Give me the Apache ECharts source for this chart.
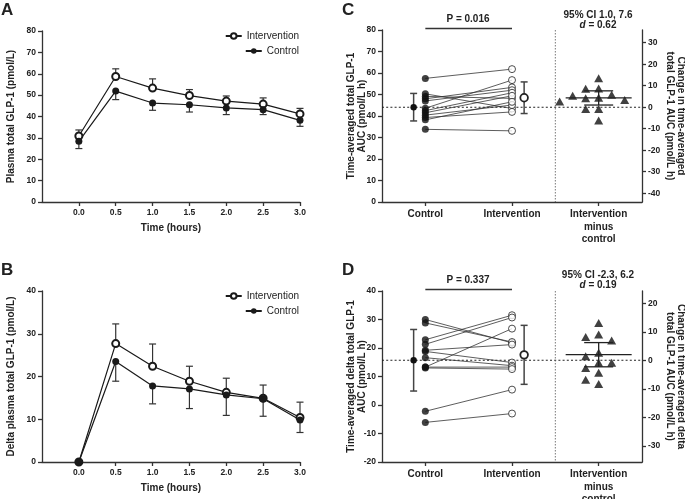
<!DOCTYPE html>
<html><head><meta charset="utf-8">
<script src="https://cdn.jsdelivr.net/npm/echarts@6/dist/echarts.min.js"></script>
<style>html,body{margin:0;padding:0;background:#fff}#c{width:685px;height:499px}</style>
</head><body><div id="c"></div>
<script>
// ---------- DATA ----------
const timeHours = [0, 0.5, 1, 1.5, 2, 2.5, 3];
const timeTicks = [0, 0.5, 1, 1.5, 2, 2.5, 3];
// Panel A: plasma total GLP-1 (pmol/L), mean and SEM
const plasmaIntervention = [30.9, 58.7, 53.3, 49.8, 47.2, 45.8, 41.2];
const plasmaInterventionErr = [2.8, 3.6, 4.3, 2.8, 2.4, 2.9, 2.6];
const plasmaControl = [28.4, 51.9, 46.3, 45.5, 44.0, 43.2, 38.2];
const plasmaControlErr = [3.4, 4.0, 3.4, 3.4, 3.1, 2.3, 2.8];
// Panel B: delta plasma total GLP-1 (pmol/L)
const deltaIntervention = [0, 27.7, 22.4, 18.9, 16.3, 14.9, 10.4];
const deltaInterventionErr = [0, 4.6, 5.2, 3.5, 3.3, 3.1, 3.6];
const deltaControl = [0, 23.5, 17.8, 17.1, 15.7, 14.8, 9.8];
const deltaControlErr = [0, 4.6, 4.2, 4.6, 4.8, 4.1, 2.9];
// Panel C: time-averaged total GLP-1 AUC per participant
const aucControl      = [57.5, 50.3, 49.1, 33.8, 43.6, 48.0, 47.0, 42.5, 41.5, 40.4, 39.3, 38.2];
const aucIntervention = [61.8, 43.5, 48.2, 33.1, 56.7, 53.3, 52.0, 50.8, 49.4, 45.1, 41.9, 46.6];
const aucMeans = [44.1, 48.5];
const aucSD = [6.4, 7.35];
const aucDiff = [13.5, 8.7, 8.6, 5.8, 5.3, 4.4, 4.2, 3.4, 2.6, -0.8, -0.8, -6.2];
const aucDiffStats = [4.3, 1.0, 7.6]; // mean, CI low, CI high
// Panel D: time-averaged delta total GLP-1 AUC
const dAucControl      = [30.0, 28.8, 22.9, 21.3, 19.2, 18.8, 16.6, 13.3, 13.3, 13.0, -2.2, -6.1];
const dAucIntervention = [21.8, 22.1, 31.5, 30.7, 21.2, 14.9, 13.8, 26.8, 13.3, 12.6, 5.4, -3.0];
const dAucMeans = [15.7, 17.6];
const dAucSD = [10.8, 10.35];
const dAucDiff = [13.1, 9.0, 8.2, 6.9, 2.6, 1.4, -0.9, -0.9, -2.7, -4.4, -6.8, -8.3];
const dAucDiffStats = [1.95, -2.3, 6.2];
// Text
const groupLabels = ['Control', 'Intervention', 'Intervention\nminus\ncontrol'];
const pTexts = ['P = 0.016', 'P = 0.337'];
const ciTexts = ['95% CI 1.0, 7.6', '95% CI -2.3, 6.2'];
const dTexts = ['0.62', '0.19'];

// ---------- STYLE ----------
const FF = "'Liberation Sans', Arial, sans-serif";
const INK = '#222';
const AX = '#333';
const axisLine = {show: true, onZero: false, lineStyle: {color: AX, width: 1.3}};
const axisTick = {show: true, length: 4, inside: false, lineStyle: {color: AX, width: 1.3}};
const axisLabel = {color: INK, fontSize: 8.5, fontWeight: 'bold', fontFamily: FF, margin: 6};
const nameStyle = {color: INK, fontSize: 10, fontWeight: 'bold', fontFamily: FF, lineHeight: 11};

const gridA = {left: 42, top: 31, width: 258, height: 171};
const gridB = {left: 42, top: 291, width: 258, height: 171};
const gridC = {left: 382, top: 30, width: 260, height: 172};
const gridD = {left: 382, top: 291, width: 260, height: 171};

function errData(xs, ys, es, dir) { return xs.map((x, i) => [x, ys[i], ys[i] + dir * es[i]]); }
function errSeries(xi, yi, data) {
  return {type: 'custom', xAxisIndex: xi, yAxisIndex: yi, z: 1, silent: true,
    encode: {x: 0, y: [1, 2]}, data,
    renderItem(params, api) {
      const x = api.value(0), y = api.value(1), e = api.value(2);
      if (e === y) return null;
      const p0 = api.coord([x, y]), p1 = api.coord([x, e]);
      const st = {stroke: AX, lineWidth: 1.2};
      return {type: 'group', children: [
        {type: 'line', shape: {x1: p0[0], y1: p0[1], x2: p1[0], y2: p1[1]}, style: st},
        {type: 'line', shape: {x1: p1[0] - 3.5, y1: p1[1], x2: p1[0] + 3.5, y2: p1[1]}, style: st}
      ]};
    }};
}
function lineSeries(name, xi, yi, ys, open) {
  return {type: 'line', name, xAxisIndex: xi, yAxisIndex: yi, z: 3,
    data: timeHours.map((t, i) => [t, ys[i]]),
    symbol: open ? 'emptyCircle' : 'circle', symbolSize: 7, showSymbol: true,
    lineStyle: {color: '#1a1a1a', width: 1.2},
    itemStyle: {color: '#1a1a1a', borderColor: '#1a1a1a', borderWidth: open ? 1.3 : 0},
    emphasis: {disabled: true}};
}
function timeX(gi) {
  return {type: 'value', gridIndex: gi, min: -0.5, max: 3, interval: 0.5,
    name: 'Time (hours)', nameLocation: 'middle', nameGap: 21, nameTextStyle: nameStyle, nameMoveOverlap: false,
    axisLine, axisTick: Object.assign({}, axisTick, {customValues: timeTicks}),
    axisLabel: Object.assign({}, axisLabel, {customValues: timeTicks, formatter: v => v.toFixed(1)}),
    splitLine: {show: false}};
}
function valY(gi, min, max, name, gap) {
  return {type: 'value', gridIndex: gi, min, max, interval: 10, position: 'left',
    name, nameLocation: 'middle', nameGap: gap, nameRotate: 90, nameTextStyle: nameStyle, nameMoveOverlap: false,
    axisLine, axisTick, axisLabel, splitLine: {show: false}};
}
function rightY(gi, min, max, ctrlMean, ticks, name) {
  return {type: 'value', gridIndex: gi, min: min - ctrlMean, max: max - ctrlMean, position: 'right',
    name, nameLocation: 'middle', nameGap: 22, nameRotate: -90, nameTextStyle: nameStyle, nameMoveOverlap: false,
    axisLine, axisTick: Object.assign({}, axisTick, {customValues: ticks}),
    axisLabel: Object.assign({}, axisLabel, {customValues: ticks}), splitLine: {show: false}};
}
function catX(gi) {
  return {type: 'value', gridIndex: gi, min: -0.5, max: 2.5,
    axisLine, axisTick: Object.assign({}, axisTick, {customValues: [0, 1, 2]}),
    axisLabel: Object.assign({}, axisLabel, {fontSize: 10, lineHeight: 12.5, customValues: [0, 1, 2],
      formatter: v => groupLabels[Math.round(v)] || ''}),
    splitLine: {show: false}};
}
function swarm(values, pxPerUnit, step, wx, wy) {
  const order = values.map((v, i) => i).sort((a, b) => values[b] - values[a]);
  const placed = [], off = new Array(values.length);
  for (const i of order) {
    const y = values[i] * pxPerUnit;
    for (let k = 0; k < 50; k++) {
      const c = k === 0 ? 0 : (k % 2 ? -Math.ceil(k / 2) : Math.ceil(k / 2)) * step;
      if (placed.every(p => Math.abs(p.x - c) >= wx || Math.abs(p.y - y) >= wy)) {
        off[i] = c; placed.push({x: c, y}); break;
      }
    }
  }
  return off;
}
function pairedSeries(xi, yi, ctrl, intv, means, sds, diffs, stats, ryi, pxPerUnit, ymin, ymax) {
  const unitPx = 260 / 3;
  const out = [];
  // dotted reference lines
  out.push({type: 'custom', xAxisIndex: xi, yAxisIndex: yi, z: 1, silent: true, data: [[1.5, means[0]]],
    renderItem(params, api) {
      const cs = params.coordSys;
      const p = api.coord([api.value(0), api.value(1)]);
      return {type: 'group', children: [
        {type: 'line', shape: {x1: cs.x, y1: p[1], x2: cs.x + cs.width, y2: p[1]},
          style: {stroke: '#222', lineWidth: 1.1, lineDash: [2, 2.2]}},
        {type: 'line', shape: {x1: p[0], y1: cs.y, x2: p[0], y2: cs.y + cs.height},
          style: {stroke: '#555', lineWidth: 0.8, lineDash: [1.5, 1.5]}}
      ]};
    }});
  // pair connectors
  out.push({type: 'custom', xAxisIndex: xi, yAxisIndex: yi, z: 2, silent: true,
    encode: {x: [0, 2], y: [1, 3]},
    data: ctrl.map((c, i) => [0, c, 1, intv[i]]),
    renderItem(params, api) {
      const p0 = api.coord([api.value(0), api.value(1)]), p1 = api.coord([api.value(2), api.value(3)]);
      return {type: 'line', shape: {x1: p0[0], y1: p0[1], x2: p1[0], y2: p1[1]},
        style: {stroke: '#333', lineWidth: 0.8}};
    }});
  out.push({type: 'scatter', xAxisIndex: xi, yAxisIndex: yi, z: 3, silent: true,
    data: ctrl.map(v => [0, v]), symbol: 'circle', symbolSize: 7, itemStyle: {color: '#111'}});
  out.push({type: 'scatter', xAxisIndex: xi, yAxisIndex: yi, z: 3, silent: true,
    data: intv.map(v => [1, v]), symbol: 'circle', symbolSize: 7,
    itemStyle: {color: '#fff', borderColor: '#222', borderWidth: 1}});
  // mean ± SD
  const offs = [-0.135, 0.14];
  out.push({type: 'custom', xAxisIndex: xi, yAxisIndex: yi, z: 4, silent: true,
    data: means.map((m, i) => [i + offs[i], m, sds[i], i]),
    renderItem(params, api) {
      const x = api.value(0), m = api.value(1), s = api.value(2), g = api.value(3);
      const pm = api.coord([x, m]), pt = api.coord([x, m + s]), pb = api.coord([x, m - s]);
      const st = {stroke: '#444', lineWidth: 1.5};
      return {type: 'group', children: [
        {type: 'line', shape: {x1: pm[0], y1: pt[1], x2: pm[0], y2: pb[1]}, style: st},
        {type: 'line', shape: {x1: pm[0] - 3.5, y1: pt[1], x2: pm[0] + 3.5, y2: pt[1]}, style: st},
        {type: 'line', shape: {x1: pm[0] - 3.5, y1: pb[1], x2: pm[0] + 3.5, y2: pb[1]}, style: st},
        g === 0 ? {type: 'circle', shape: {cx: pm[0], cy: pm[1], r: 3.2}, style: {fill: '#111'}}
                : {type: 'circle', shape: {cx: pm[0], cy: pm[1], r: 3.8}, style: {fill: '#fff', stroke: '#222', lineWidth: 1.8}}
      ]};
    }});
  // P bar
  out.push({type: 'custom', xAxisIndex: xi, yAxisIndex: yi, z: 4, silent: true, clip: false,
    data: [[0, ymax, 1]],
    renderItem(params, api) {
      const p0 = api.coord([api.value(0), api.value(1)]), p1 = api.coord([api.value(2), api.value(1)]);
      return {type: 'line', shape: {x1: p0[0], y1: p0[1] - 1.5, x2: p1[0], y2: p1[1] - 1.5},
        style: {stroke: '#333', lineWidth: 1.5}};
    }});
  // differences (swarm)
  const off = swarm(diffs, pxPerUnit, 6.5, 12.5, 8.5);
  out.push({type: 'scatter', xAxisIndex: xi, yAxisIndex: ryi, z: 3, silent: true,
    data: diffs.map((v, i) => [2 + off[i] / unitPx, v]), symbol: 'triangle', symbolSize: [9, 8],
    itemStyle: {color: '#111'}});
  out.push({type: 'custom', xAxisIndex: xi, yAxisIndex: ryi, z: 4, silent: true,
    data: [[2, stats[0], stats[1], stats[2]]],
    renderItem(params, api) {
      const x = api.value(0);
      const pm = api.coord([x, api.value(1)]), pl = api.coord([x, api.value(2)]), ph = api.coord([x, api.value(3)]);
      const st = {stroke: '#222', lineWidth: 1.3};
      return {type: 'group', children: [
        {type: 'line', shape: {x1: pm[0] - 33, y1: pm[1], x2: pm[0] + 33, y2: pm[1]}, style: st},
        {type: 'line', shape: {x1: pm[0] - 14.5, y1: pl[1], x2: pm[0] + 14.5, y2: pl[1]}, style: st},
        {type: 'line', shape: {x1: pm[0] - 14.5, y1: ph[1], x2: pm[0] + 14.5, y2: ph[1]}, style: st},
        {type: 'line', shape: {x1: pm[0], y1: pl[1], x2: pm[0], y2: ph[1]}, style: st}
      ]};
    }});
  return out;
}

function legendItem(name, top) {
  return {data: [name], right: 386, top, orient: 'vertical', padding: 0, itemWidth: 16, itemHeight: 7,
    selectedMode: false, textStyle: {fontSize: 10, color: INK, fontFamily: FF}, itemGap: 0};
}
function txt(x, y, text, size, extra) {
  return Object.assign({type: 'text', x, y, silent: true,
    style: Object.assign({text, font: 'bold ' + size + 'px ' + FF, fill: INK}, extra || {})});
}

const option = {
  backgroundColor: '#fff',
  animation: false,
  grid: [gridA, gridB, gridC, gridD].map(g => Object.assign({containLabel: false, outerBoundsMode: 'none'}, g)),
  xAxis: [timeX(0), timeX(1), catX(2), catX(3)],
  yAxis: [
    valY(0, 0, 80, 'Plasma total GLP-1 (pmol/L)', 25),
    valY(1, 0, 40, 'Delta plasma total GLP-1 (pmol/L)', 25),
    valY(2, 0, 80, 'Time-averaged total GLP-1\nAUC (pmol/L h)', 14),
    rightY(2, 0, 80, aucMeans[0], [-40, -30, -20, -10, 0, 10, 20, 30], 'Change in time-averaged\ntotal GLP-1 AUC (pmol/L h)'),
    valY(3, -20, 40, 'Time-averaged delta total GLP-1\nAUC (pmol/L h)', 14),
    rightY(3, -20, 40, dAucMeans[0], [-30, -20, -10, 0, 10, 20], 'Change in time-averaged delta\ntotal GLP-1 AUC (pmol/L h)')
  ],
  legend: [legendItem('Intervention', 31), legendItem('Control', 46), legendItem('Intervention', 291), legendItem('Control', 306)],
  series: [
    errSeries(0, 0, errData(timeHours, plasmaIntervention, plasmaInterventionErr, 1)),
    errSeries(0, 0, errData(timeHours, plasmaControl, plasmaControlErr, -1)),
    lineSeries('Intervention', 0, 0, plasmaIntervention, true),
    lineSeries('Control', 0, 0, plasmaControl, false),
    errSeries(1, 1, errData(timeHours, deltaIntervention, deltaInterventionErr, 1)),
    errSeries(1, 1, errData(timeHours, deltaControl, deltaControlErr, -1)),
    lineSeries('Intervention', 1, 1, deltaIntervention, true),
    lineSeries('Control', 1, 1, deltaControl, false),
    ...pairedSeries(2, 2, aucControl, aucIntervention, aucMeans, aucSD, aucDiff, aucDiffStats, 3, 172 / 80, 0, 80),
    ...pairedSeries(3, 4, dAucControl, dAucIntervention, dAucMeans, dAucSD, dAucDiff, dAucDiffStats, 5, 171 / 60, -20, 40)
  ],
  graphic: [
    txt(1, 2, 'A', 17), txt(1, 262, 'B', 17), txt(342, 2, 'C', 17), txt(342, 262, 'D', 17),
    txt(468, 19.5, pTexts[0], 10, {align: 'center', verticalAlign: 'middle'}),
    txt(468, 280, pTexts[1], 10, {align: 'center', verticalAlign: 'middle'}),
    txt(598, 15, ciTexts[0], 10, {align: 'center', verticalAlign: 'middle'}),
    txt(598, 275, ciTexts[1], 10, {align: 'center', verticalAlign: 'middle'}),
    {type: 'text', x: 598, y: 25.5, silent: true, style: {text: '{i|d} = ' + dTexts[0], align: 'center', verticalAlign: 'middle',
      font: 'bold 10px ' + FF, fill: INK, rich: {i: {fontStyle: 'italic', fontWeight: 'bold', fontSize: 10, fontFamily: FF, fill: INK}}}},
    {type: 'text', x: 598, y: 285.5, silent: true, style: {text: '{i|d} = ' + dTexts[1], align: 'center', verticalAlign: 'middle',
      font: 'bold 10px ' + FF, fill: INK, rich: {i: {fontStyle: 'italic', fontWeight: 'bold', fontSize: 10, fontFamily: FF, fill: INK}}}}
  ]
};
const chart = echarts.init(document.getElementById('c'), null, {renderer: 'canvas'});
chart.setOption(option);
</script></body></html>
